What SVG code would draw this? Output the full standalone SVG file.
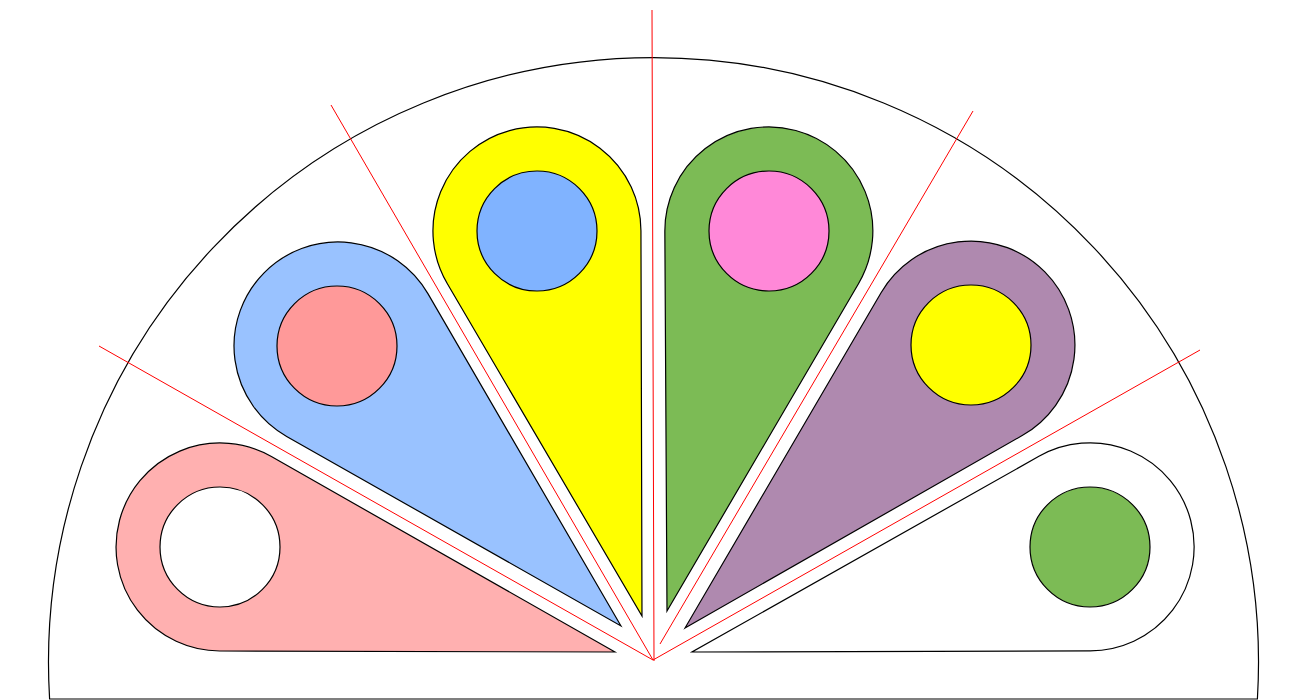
<svg xmlns="http://www.w3.org/2000/svg" width="1297" height="700" viewBox="0 0 1297 700">
<style>
.ol{stroke:#000;stroke-width:1.2;}
.ray{stroke:#ff0000;stroke-width:1;fill:none;}
</style>
<rect width="1297" height="700" fill="#fff"/>
<g id="dome"><path class="ol" fill="none" d="M49.6 699 A605 605 0 1 1 1257.4 699 Z"/></g>
<g id="rays">
<line class="ray" x1="653" y1="660" x2="99" y2="346"/>
<line class="ray" x1="653" y1="660" x2="331" y2="105"/>
<line class="ray" x1="652" y1="10" x2="654" y2="661"/>
<line class="ray" x1="660" y1="644" x2="973" y2="111"/>
<line class="ray" x1="653" y1="660" x2="1200" y2="350"/>
</g>
<g id="petal-pink">
<path class="ol" fill="#ffb0b0" transform="translate(615 652) rotate(14.89)" d="M0 0 L-382.3 -100.6 A104 104 0 1 0 -382.3 100.6 Z"/>
<circle class="ol" cx="220" cy="547" r="60" fill="#fff"/>
</g>
<g id="petal-blue">
<path class="ol" fill="#99c2ff" transform="translate(621 626) rotate(44.7)" d="M0 0 L-371 -100.4 A104 104 0 1 0 -371 100.4 Z"/>
<circle class="ol" cx="337" cy="346" r="60" fill="#ff9999"/>
</g>
<g id="petal-yellow">
<path class="ol" fill="#ffff00" transform="translate(642 616) rotate(74.74)" d="M0 0 L-372 -100.4 A104 104 0 1 0 -372 100.4 Z"/>
<circle class="ol" cx="537" cy="231" r="60" fill="#80b3ff"/>
</g>
<g id="petal-green">
<path class="ol" fill="#7cbb55" transform="translate(667 611) rotate(105)" d="M0 0 L-366 -100.3 A104 104 0 1 0 -366 100.3 Z"/>
<circle class="ol" cx="769" cy="231" r="60" fill="#ff88d8"/>
</g>
<g id="petal-purple">
<path class="ol" fill="#af89af" transform="translate(685 628) rotate(135.3)" d="M0 0 L-375.5 -100.5 A104 104 0 1 0 -375.5 100.5 Z"/>
<circle class="ol" cx="971" cy="345" r="60" fill="#ffff00"/>
</g>
<g id="petal-white">
<path class="ol" fill="#fff" transform="translate(692 652) rotate(165.2)" d="M0 0 L-385.4 -100.6 A104 104 0 1 0 -385.4 100.6 Z"/>
<circle class="ol" cx="1090" cy="547" r="60" fill="#7cbb55"/>
</g>
</svg>
